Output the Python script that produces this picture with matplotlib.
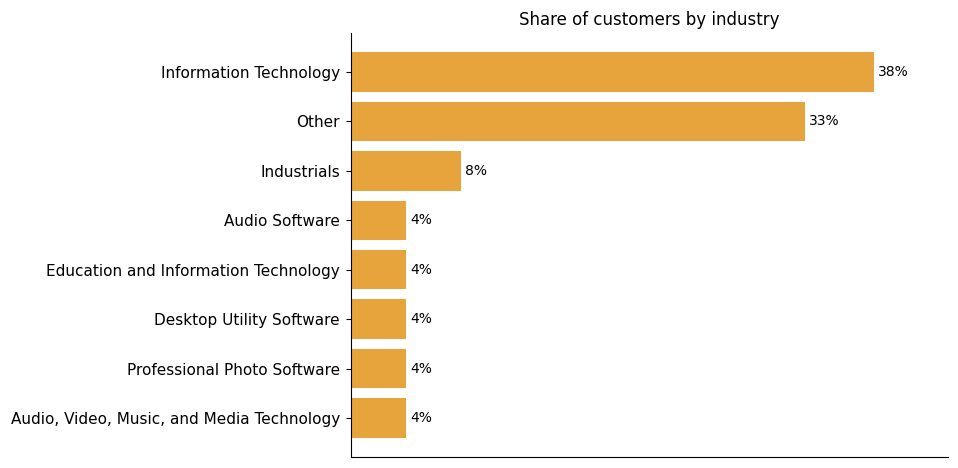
import matplotlib
matplotlib.use("Agg")
import matplotlib.pyplot as plt

categories = ["Information Technology", "Other", "Industrials", "Audio Software",
              "Education and Information Technology", "Desktop Utility Software",
              "Professional Photo Software", "Audio, Video, Music, and Media Technology"]
shares = [38, 33, 8, 4, 4, 4, 4, 4]

fig = plt.figure(figsize=(9.58, 4.68), dpi=100)
ax = fig.add_axes([351/958, 1-457/468, (948-351)/958, (457-33)/468])
ypos = list(range(len(categories)))[::-1]
ax.barh(ypos, shares, height=0.8, color="#E8A43C")
ax.set_yticks(ypos)
ax.set_yticklabels(categories, fontsize=11)
ax.tick_params(axis="y", pad=4.5)
ax.set_xticks([])
ax.set_xlim(0, max(shares) * 1.142)
for y, v in zip(ypos, shares):
    ax.annotate(f"{v}%", (v, y), xytext=(3, 0), textcoords="offset points",
                va="center", ha="left", fontsize=10)
ax.spines["top"].set_visible(False)
ax.spines["right"].set_visible(False)
ax.set_title("Share of customers by industry", fontsize=12)
fig.savefig("out.png", dpi=100)
